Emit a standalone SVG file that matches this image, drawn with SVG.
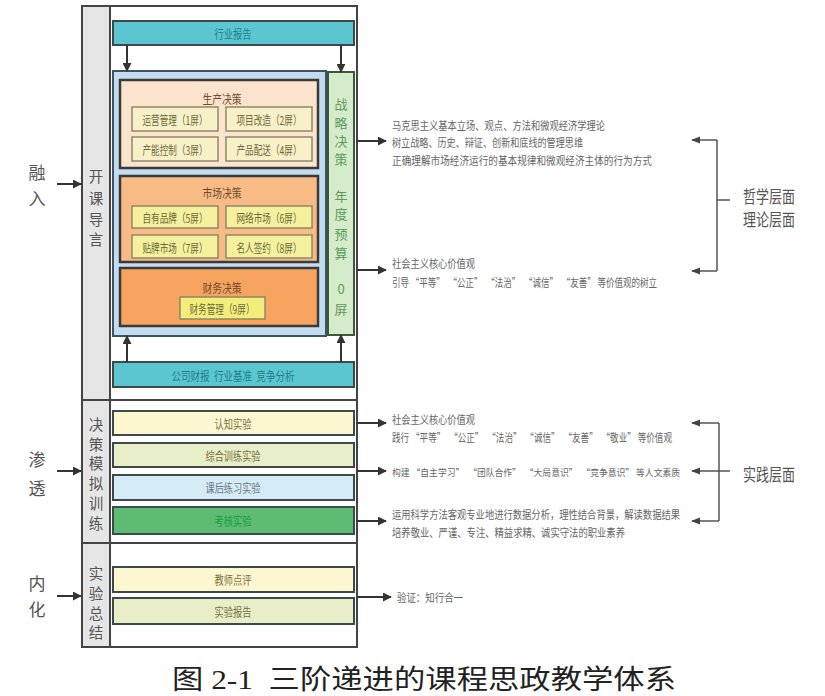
<svg xmlns="http://www.w3.org/2000/svg" width="825" height="696" viewBox="0 0 825 696">
<style>
text{font-family:"Noto Sans CJK SC","Noto Sans",sans-serif;dominant-baseline:central;white-space:pre}
.bar{stroke:#3d4a4a;stroke-width:2}
.sub{stroke:#8c8a66;stroke-width:1.5}
.lbl{font-size:17px;fill:#555;text-anchor:middle}
.vt{font-size:14.5px;fill:#555;text-anchor:middle}
.gv{font-size:13px;fill:#5d9a5a;text-anchor:middle}
.bt{font-size:12px;text-anchor:middle}
.rt{font-size:11.5px;fill:#666}
.ln{stroke:#333;stroke-width:2;fill:none}
.br{stroke:#555;stroke-width:1.5;fill:none}
</style>
<defs>
<marker id="ah" viewBox="0 0 10 10" refX="9" refY="5" markerWidth="4.5" markerHeight="4.5" orient="auto" markerUnits="strokeWidth">
<path d="M0,0 L10,5 L0,10 Z" fill="#333"/>
</marker>
<marker id="ah2" viewBox="0 0 10 10" refX="9" refY="5" markerWidth="6" markerHeight="6" orient="auto" markerUnits="strokeWidth">
<path d="M0,1 L10,5 L0,9 Z" fill="#444"/>
</marker>
</defs>
<rect width="825" height="696" fill="#fff"/>

<g id="frame">
<rect x="82" y="6" width="275" height="641" fill="#fff" stroke="#444" stroke-width="2"/>
<rect x="82" y="6" width="28" height="641" fill="#e6e6e6" stroke="#444" stroke-width="2"/>
<line x1="82" y1="400" x2="357" y2="400" stroke="#444" stroke-width="2"/>
<line x1="82" y1="543" x2="357" y2="543" stroke="#444" stroke-width="2"/>
</g>

<g id="side-1">
<text class="vt" x="96" y="175">开</text>
<text class="vt" x="96" y="197">课</text>
<text class="vt" x="96" y="218">导</text>
<text class="vt" x="96" y="238">言</text>
</g>
<g id="side-2">
<text class="vt" x="96" y="423">决</text>
<text class="vt" x="96" y="443">策</text>
<text class="vt" x="96" y="462">模</text>
<text class="vt" x="96" y="482">拟</text>
<text class="vt" x="96" y="502">训</text>
<text class="vt" x="96" y="522">练</text>
</g>
<g id="side-3">
<text class="vt" x="96" y="572">实</text>
<text class="vt" x="96" y="592">验</text>
<text class="vt" x="96" y="612">总</text>
<text class="vt" x="96" y="631">结</text>
</g>

<g id="left-labels">
<text class="lbl" x="37" y="171">融</text>
<text class="lbl" x="37" y="197">入</text>
<text class="lbl" x="37" y="458">渗</text>
<text class="lbl" x="37" y="487">透</text>
<text class="lbl" x="37" y="582">内</text>
<text class="lbl" x="37" y="608">化</text>
</g>

<g id="industry-report">
<rect class="bar" x="113" y="21" width="241" height="24" fill="#5cc6d0" stroke="#2b7d88"/>
<text class="bt" x="233" y="33" fill="#1d7f8e" textLength="37" lengthAdjust="spacingAndGlyphs">行业报告</text>
</g>

<g id="decision-area">
<rect x="113" y="71" width="213" height="265" fill="#c4dcef" stroke="#3c5566" stroke-width="2"/>
</g>

<g id="production">
<rect x="120" y="80" width="198" height="88" fill="#fce3cd" stroke="#3a3a3a" stroke-width="2.5"/>
<text class="bt" x="222" y="98" fill="#6e4c2c" textLength="39" lengthAdjust="spacingAndGlyphs">生产决策</text>
<rect class="sub" x="132" y="107" width="86" height="24" fill="#f8f0c8"/>
<text class="bt" x="175" y="119" fill="#6e6a3a" textLength="65" lengthAdjust="spacingAndGlyphs">运营管理（1屏）</text>
<rect class="sub" x="226" y="107" width="86" height="24" fill="#f8f0c8"/>
<text class="bt" x="269" y="119" fill="#6e6a3a" textLength="65" lengthAdjust="spacingAndGlyphs">项目改造（2屏）</text>
<rect class="sub" x="132" y="137" width="86" height="24" fill="#f8f0c8"/>
<text class="bt" x="175" y="149" fill="#6e6a3a" textLength="65" lengthAdjust="spacingAndGlyphs">产能控制（3屏）</text>
<rect class="sub" x="226" y="137" width="86" height="24" fill="#f8f0c8"/>
<text class="bt" x="269" y="149" fill="#6e6a3a" textLength="65" lengthAdjust="spacingAndGlyphs">产品配送（4屏）</text>
</g>

<g id="market">
<rect x="120" y="176" width="198" height="86" fill="#f8bb86" stroke="#3a3a3a" stroke-width="2.5"/>
<text class="bt" x="222" y="192" fill="#6e4c2c" textLength="39" lengthAdjust="spacingAndGlyphs">市场决策</text>
<rect class="sub" x="132" y="206" width="86" height="22" fill="#f5f09e"/>
<text class="bt" x="175" y="217" fill="#6e6a3a" textLength="65" lengthAdjust="spacingAndGlyphs">自有品牌（5屏）</text>
<rect class="sub" x="226" y="206" width="86" height="22" fill="#f5f09e"/>
<text class="bt" x="269" y="217" fill="#6e6a3a" textLength="65" lengthAdjust="spacingAndGlyphs">网络市场（6屏）</text>
<rect class="sub" x="132" y="235" width="86" height="23" fill="#f5f09e"/>
<text class="bt" x="175" y="247" fill="#6e6a3a" textLength="65" lengthAdjust="spacingAndGlyphs">贴牌市场（7屏）</text>
<rect class="sub" x="226" y="235" width="86" height="23" fill="#f5f09e"/>
<text class="bt" x="269" y="247" fill="#6e6a3a" textLength="65" lengthAdjust="spacingAndGlyphs">名人签约（8屏）</text>
</g>

<g id="finance">
<rect x="120" y="268" width="198" height="58" fill="#f5a35e" stroke="#3a3a3a" stroke-width="2.5"/>
<text class="bt" x="222" y="287" fill="#6e4c2c" textLength="39" lengthAdjust="spacingAndGlyphs">财务决策</text>
<rect class="sub" x="180" y="297" width="85" height="22" fill="#f3ee7c"/>
<text class="bt" x="222" y="308" fill="#6e6a3a" textLength="65" lengthAdjust="spacingAndGlyphs">财务管理（9屏）</text>
</g>

<g id="strategy">
<rect x="328" y="72" width="26" height="263" fill="#d5eccb" stroke="#3a5a3a" stroke-width="2"/>
<text class="gv" x="341" y="103">战</text>
<text class="gv" x="341" y="122">略</text>
<text class="gv" x="341" y="140">决</text>
<text class="gv" x="341" y="158">策</text>
<text class="gv" x="341" y="195">年</text>
<text class="gv" x="341" y="213">度</text>
<text class="gv" x="341" y="233">预</text>
<text class="gv" x="341" y="252">算</text>
<text class="gv" x="341" y="288">0</text>
<text class="gv" x="341" y="308">屏</text>
</g>

<g id="financial-data">
<rect class="bar" x="113" y="362" width="241" height="25" fill="#5cc6d0" stroke="#2b7d88"/>
<text class="bt" x="233" y="375" fill="#1d7f8e" textLength="123" lengthAdjust="spacingAndGlyphs">公司财报&#160;&#160;行业基准&#160;&#160;竞争分析</text>
</g>

<g id="exp-cognitive">
<rect class="bar" x="113" y="411" width="241" height="24" fill="#fcf7d0" stroke="#4a4a4a"/>
<text class="bt" x="233" y="423" fill="#7a7040" textLength="37" lengthAdjust="spacingAndGlyphs">认知实验</text>
</g>
<g id="exp-comprehensive">
<rect class="bar" x="113" y="443" width="241" height="24" fill="#e7eec8" stroke="#4a4a4a"/>
<text class="bt" x="233" y="455" fill="#7a7040" textLength="55" lengthAdjust="spacingAndGlyphs">综合训练实验</text>
</g>
<g id="exp-practice">
<rect class="bar" x="113" y="475" width="241" height="25" fill="#d5ebf5" stroke="#3d5560"/>
<text class="bt" x="233" y="487" fill="#6a7a88" textLength="55" lengthAdjust="spacingAndGlyphs">课后练习实验</text>
</g>
<g id="exp-exam">
<rect class="bar" x="113" y="507" width="241" height="27" fill="#5dbb73" stroke="#2e5a3a"/>
<text class="bt" x="233" y="520" fill="#16a040" textLength="37" lengthAdjust="spacingAndGlyphs">考核实验</text>
</g>
<g id="teacher-review">
<rect class="bar" x="113" y="567" width="241" height="25" fill="#fcf7d0" stroke="#4a4a4a"/>
<text class="bt" x="233" y="579" fill="#7a7040" textLength="37" lengthAdjust="spacingAndGlyphs">教师点评</text>
</g>
<g id="exp-report">
<rect class="bar" x="113" y="598" width="241" height="26" fill="#e7eec8" stroke="#4a4a4a"/>
<text class="bt" x="233" y="611" fill="#7a7040" textLength="37" lengthAdjust="spacingAndGlyphs">实验报告</text>
</g>

<g id="theory-text-1">
<text class="rt" x="392" y="125" textLength="213" lengthAdjust="spacingAndGlyphs">马克思主义基本立场、观点、方法和微观经济学理论</text>
<text class="rt" x="392" y="142" textLength="191" lengthAdjust="spacingAndGlyphs">树立战略、历史、辩证、创新和底线的管理思维</text>
<text class="rt" x="392" y="160" textLength="260" lengthAdjust="spacingAndGlyphs">正确理解市场经济运行的基本规律和微观经济主体的行为方式</text>
</g>
<g id="theory-text-2">
<text class="rt" x="392" y="263" textLength="83" lengthAdjust="spacingAndGlyphs">社会主义核心价值观</text>
<text class="rt" x="392" y="282" font-size="10.5" textLength="265" lengthAdjust="spacingAndGlyphs">引导&#160;“平等”&#160;&#160;“公正”&#160;&#160;“法治”&#160;&#160;“诚信”&#160;&#160;“友善”&#160;等价值观的树立</text>
</g>
<g id="practice-text-1">
<text class="rt" x="392" y="419" textLength="83" lengthAdjust="spacingAndGlyphs">社会主义核心价值观</text>
<text class="rt" x="392" y="437" font-size="10.5" textLength="280" lengthAdjust="spacingAndGlyphs">践行&#160;“平等”&#160;&#160;“公正”&#160;&#160;“法治”&#160;&#160;“诚信”&#160;&#160;“友善”&#160;&#160;“敬业”&#160;等价值观</text>
</g>
<g id="practice-text-2">
<text class="rt" x="392" y="472" style="font-size:9.5px" textLength="288" lengthAdjust="spacingAndGlyphs">构建&#160;“自主学习”&#160;&#160;“团队合作”&#160;&#160;“大局意识”&#160;&#160;“竞争意识”&#160;等人文素质</text>
</g>
<g id="practice-text-3">
<text class="rt" x="392" y="514" textLength="288" lengthAdjust="spacingAndGlyphs">运用科学方法客观专业地进行数据分析，理性结合背景，解读数据结果</text>
<text class="rt" x="392" y="532" textLength="233" lengthAdjust="spacingAndGlyphs">培养敬业、严谨、专注、精益求精、诚实守法的职业素养</text>
</g>
<g id="verify-text">
<text class="rt" x="397" y="597" textLength="66" lengthAdjust="spacingAndGlyphs">验证：知行合一</text>
</g>

<g id="level-labels">
<text x="743" y="195" font-size="17" fill="#555" textLength="52" lengthAdjust="spacingAndGlyphs">哲学层面</text>
<text x="743" y="218" font-size="17" fill="#555" textLength="52" lengthAdjust="spacingAndGlyphs">理论层面</text>
<text x="743" y="473" font-size="17" fill="#555" textLength="52" lengthAdjust="spacingAndGlyphs">实践层面</text>
</g>

<g id="connectors">
<line class="ln" x1="127" y1="45" x2="127" y2="71" marker-end="url(#ah)"/>
<line class="ln" x1="341" y1="45" x2="341" y2="72" marker-end="url(#ah)"/>
<line class="ln" x1="127" y1="362" x2="127" y2="336" marker-end="url(#ah)"/>
<line class="ln" x1="341" y1="362" x2="341" y2="335" marker-end="url(#ah)"/>
<line class="ln" x1="57" y1="184" x2="81" y2="184" marker-end="url(#ah)"/>
<line class="ln" x1="57" y1="471" x2="81" y2="471" marker-end="url(#ah)"/>
<line class="ln" x1="57" y1="596" x2="81" y2="596" marker-end="url(#ah)"/>
<line class="ln" x1="357" y1="141" x2="386" y2="141" marker-end="url(#ah)"/>
<line class="ln" x1="357" y1="270" x2="386" y2="270" marker-end="url(#ah)"/>
<line class="ln" x1="357" y1="423" x2="386" y2="423" marker-end="url(#ah)"/>
<line class="ln" x1="357" y1="471" x2="386" y2="471" marker-end="url(#ah)"/>
<line class="ln" x1="357" y1="521" x2="386" y2="521" marker-end="url(#ah)"/>
<line class="ln" x1="357" y1="597" x2="391" y2="597" marker-end="url(#ah)"/>
<path class="br" d="M717,140 V271"/>
<line class="br" x1="717" y1="140" x2="692" y2="140" marker-end="url(#ah2)"/>
<line class="br" x1="717" y1="271" x2="692" y2="271" marker-end="url(#ah2)"/>
<line class="br" x1="717" y1="200" x2="730" y2="200"/>
<path class="br" d="M719,423 V521"/>
<line class="br" x1="719" y1="423" x2="692" y2="423" marker-end="url(#ah2)"/>
<line class="br" x1="719" y1="521" x2="692" y2="521" marker-end="url(#ah2)"/>
<line class="br" x1="730" y1="471" x2="692" y2="471" marker-end="url(#ah2)"/>
</g>

<g id="caption">
<text x="172" y="680" font-size="27" fill="#222" textLength="504" lengthAdjust="spacingAndGlyphs" style="font-family:'Liberation Serif','Noto Sans CJK SC',serif">图 2-1&#160;&#160;三阶递进的课程思政教学体系</text>
</g>
</svg>
